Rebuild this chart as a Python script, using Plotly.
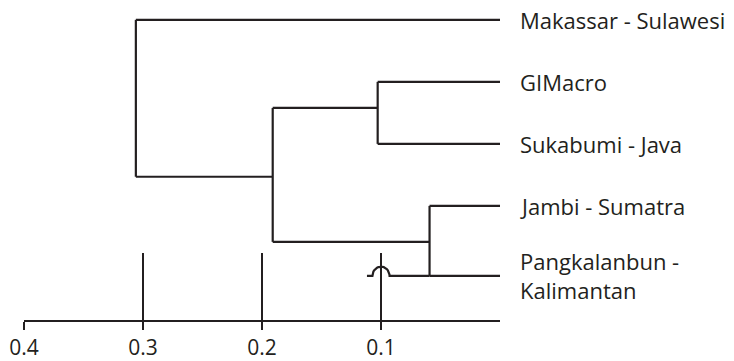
import math
import plotly.graph_objects as go

# ---- data ----
leaves = ["Makassar - Sulawesi", "GIMacro", "Sukabumi - Java", "Jambi - Sumatra",
          "Pangkalanbun -<br>Kalimantan"]
leaf_y = [0.0, 1.0, 2.0, 3.0, 4.13]          # vertical order of the leaves
leaf_dist = [0.0, 0.0, 0.0, 0.0, 0.0]          # tip distance of each leaf

# internal nodes: children (index into leaves, or "n<k>" for node k), height, attach y
node_children = [(1, 2), (3, 4), ("n0", "n1"), (0, "n2")]
node_height = [0.1028, 0.0592, 0.191, 0.306]
node_attach_y = [1.42, 3.58, 2.53, None]

# stray branch continuing past the Jambi/Pangkalanbun node, with a hop over the 0.1 tick
stray_leaf = 4
stray_end = 0.1118
hop_at = 0.1
hop_halfwidth = 0.0072
hop_height = 0.15

tick_vals = [0.4, 0.3, 0.2, 0.1]
tick_text = ["0.4", "0.3", "0.2", "0.1"]
x_range = [0.4, 0.0]
y_range = [4.84, -0.32]

INK = "#231f20"
FONT = "Open Sans"

def child_pos(c):
    if isinstance(c, str):
        k = int(c[1:])
        return node_height[k], node_attach_y[k]
    return leaf_dist[c], leaf_y[c]

xs, ys = [], []
for (a, b), h in zip(node_children, node_height):
    xa, ya = child_pos(a)
    xb, yb = child_pos(b)
    xs += [h, h, None]
    ys += [ya, yb, None]
    xs += [h, xa, None, h, xb, None]
    ys += [ya, ya, None, yb, yb, None]

fig = go.Figure()
fig.add_trace(go.Scatter(x=xs, y=ys, mode="lines",
                         line=dict(color=INK, width=2.2), hoverinfo="skip",
                         showlegend=False))

# stray segment with hop
sy = leaf_y[stray_leaf]
hx = [node_height[1], hop_at - hop_halfwidth]
hy = [sy, sy]
for i in range(0, 21):
    t = math.pi * i / 20
    hx.append(hop_at - hop_halfwidth * math.cos(t))
    hy.append(sy - hop_height * math.sin(t))
hx += [stray_end]
hy += [sy]
fig.add_trace(go.Scatter(x=hx, y=hy, mode="lines",
                         line=dict(color=INK, width=2.2), hoverinfo="skip",
                         showlegend=False))

# dummy trace on overlaying axis (tall ticks)
fig.add_trace(go.Scatter(x=[None], y=[None], xaxis="x2", showlegend=False,
                         hoverinfo="skip"))

for name, y, d in zip(leaves, leaf_y, leaf_dist):
    fig.add_annotation(x=d, y=y, text=name, xanchor="left", yanchor="middle",
                       xshift=18, showarrow=False, align="left",
                       font=dict(family=FONT, size=22, color=INK))

fig.update_layout(
    width=734, height=361,
    margin=dict(l=24, r=234, t=0, b=41),
    paper_bgcolor="white", plot_bgcolor="white",
    xaxis=dict(range=x_range, tickvals=tick_vals, ticktext=tick_text,
               ticks="outside", ticklen=8, tickwidth=2, tickcolor=INK,
               showline=True, linewidth=2, linecolor=INK, showgrid=False,
               zeroline=False, tickfont=dict(family=FONT, size=21, color=INK)),
    xaxis2=dict(range=x_range, overlaying="x", anchor="y", side="bottom",
                tickvals=tick_vals, ticks="inside", ticklen=67, tickwidth=2,
                tickcolor=INK, showticklabels=False, showline=False,
                showgrid=False, zeroline=False),
    yaxis=dict(range=y_range, visible=False, showgrid=False, zeroline=False),
)

fig.write_html("out.html", config={"displayModeBar": False, "staticPlot": True},
               post_script="document.body.style.margin='0';document.body.style.overflow='hidden';")
